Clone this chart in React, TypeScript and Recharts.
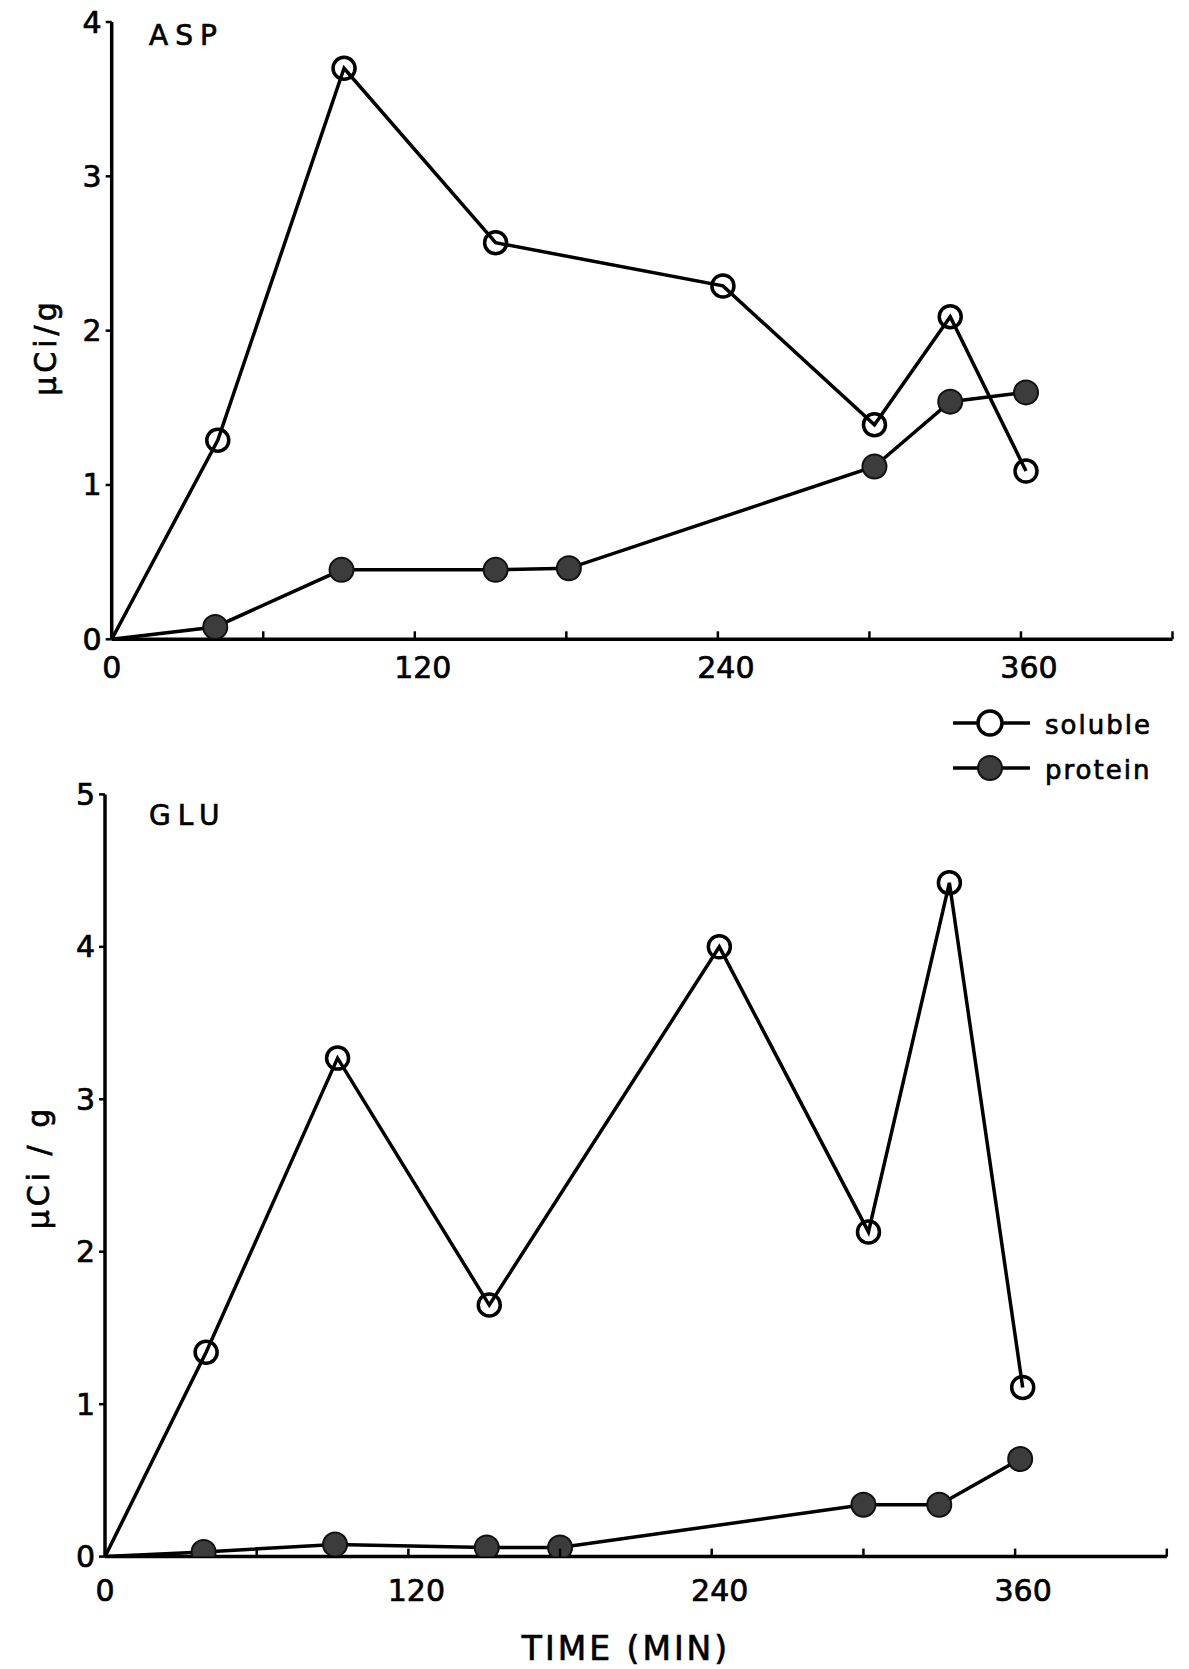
import { LineChart, Line, XAxis, YAxis, Legend, Label } from 'recharts';

const FONT = '"DejaVu Sans", Verdana, sans-serif';

const timeTicks = [0, 60, 120, 180, 240, 300, 360, 420];
const timeLabels = [0, 120, 240, 360];
const aspTicks = [0, 1, 2, 3, 4];
const gluTicks = [0, 1, 2, 3, 4, 5];
const legendOrder = ['soluble', 'protein'];

// ASP panel
const aspSolubleTime = [0, 42, 92, 152, 242, 302, 332, 362];
const aspSolubleValue = [0, 1.29, 3.7, 2.57, 2.29, 1.39, 2.09, 1.09];
const aspProteinTime = [0, 41, 91, 152, 181, 302, 332, 362];
const aspProteinValue = [0, 0.08, 0.45, 0.45, 0.46, 1.12, 1.54, 1.6];

// GLU panel
const gluSolubleTime = [0, 40, 92, 152, 243, 302, 334, 363];
const gluSolubleValue = [0, 1.34, 3.27, 1.65, 4.0, 2.13, 4.42, 1.11];
const gluProteinTime = [0, 39, 91, 151, 180, 300, 330, 362];
const gluProteinValue = [0, 0.03, 0.08, 0.06, 0.06, 0.34, 0.34, 0.64];

const toPoints = (t: number[], v: number[]) => t.map((time, i) => ({ time, value: v[i] }));

// hand-lettered look: thin outline on the glyphs
const inkText = { fill: '#000', stroke: '#000', strokeWidth: 0.7, fontFamily: FONT };

const OpenDot = (props: any) => {
    const { cx, cy, index } = props;
    if (index === 0 || cx == null) return <g key={`o-${index}`} />;
    return <circle key={`o-${index}`} cx={cx} cy={cy} r={11} fill="none" stroke="#000" strokeWidth={3.5} />;
};

const FilledDot = (props: any) => {
    const { cx, cy, index } = props;
    if (index === 0 || cx == null) return <g key={`f-${index}`} />;
    return <circle key={`f-${index}`} cx={cx} cy={cy} r={12} fill="#3c3c3c" stroke="#111" strokeWidth={2} />;
};

const makeTimeTick = (labelDy: number) => (props: any) => {
    const { x, y, payload } = props;
    const v = payload.value as number;
    return (
        <g>
            {v > 0 && <line x1={x} x2={x} y1={y} y2={y - 8} stroke="#000" strokeWidth={2.5} />}
            {timeLabels.includes(v) && (
                <text
                    x={x + (v === 0 ? 0 : 8)}
                    y={y + labelDy}
                    textAnchor="middle"
                    dominantBaseline="central"
                    fontSize={30}
                    {...inkText}
                >
                    {v}
                </text>
            )}
        </g>
    );
};

const ValueTick = (props: any) => {
    const { x, y, payload } = props;
    return (
        <g>
            <line x1={x - 6} x2={x} y1={y} y2={y} stroke="#000" strokeWidth={2.5} />
            <text x={x - 10} y={y} textAnchor="end" dominantBaseline="central" fontSize={30} {...inkText}>
                {payload.value}
            </text>
        </g>
    );
};

const LegendContent = (props: any) => {
    const items = [...(props.payload || [])].sort(
        (a: any, b: any) => legendOrder.indexOf(a.value) - legendOrder.indexOf(b.value)
    );
    return (
        <svg width={240} height={90}>
            {items.map((entry: any, i: number) => {
                const y = 23 + i * 45;
                const open = entry.value === 'soluble';
                return (
                    <g key={entry.value}>
                        <line x1={3} x2={80} y1={y} y2={y} stroke="#000" strokeWidth={3.5} />
                        {open ? (
                            <circle cx={40} cy={y} r={12} fill="#fff" stroke="#000" strokeWidth={3.5} />
                        ) : (
                            <circle cx={40} cy={y} r={12} fill="#3c3c3c" stroke="#111" strokeWidth={2} />
                        )}
                        <text x={95} y={y + 2} dominantBaseline="central" fontSize={26} letterSpacing={2} {...inkText}>
                            {entry.value}
                        </text>
                    </g>
                );
            })}
        </svg>
    );
};

interface PanelProps {
    title: string;
    titleY: number;
    yLabel: string;
    yLabelX: number;
    yLabelY: number;
    yMax: number;
    yTicks: number[];
    solubleData: { time: number; value: number }[];
    proteinData: { time: number; value: number }[];
    height: number;
    margin: { top: number; right: number; bottom: number; left: number };
    labelDy: number;
    showLegend?: boolean;
    xLabel?: string;
    xLabelY?: number;
}

function Panel(p: PanelProps) {
    return (
        <LineChart width={1189} height={p.height} margin={p.margin}>
            <XAxis
                dataKey="time"
                type="number"
                domain={[0, 420]}
                ticks={timeTicks}
                interval={0}
                height={40}
                tickSize={0}
                tickMargin={0}
                tick={makeTimeTick(p.labelDy)}
                axisLine={{ stroke: '#000', strokeWidth: 3.5 }}
                allowDataOverflow
            >
                {p.xLabel && (
                    <Label
                        content={() => (
                            <text x={626} y={p.xLabelY} textAnchor="middle" dominantBaseline="central" fontSize={33} letterSpacing={3} {...inkText}>
                                {p.xLabel}
                            </text>
                        )}
                    />
                )}
            </XAxis>
            <YAxis
                type="number"
                domain={[0, p.yMax]}
                ticks={p.yTicks}
                interval={0}
                width={60}
                tickSize={0}
                tickMargin={0}
                tick={ValueTick}
                axisLine={{ stroke: '#000', strokeWidth: 3.5 }}
                allowDataOverflow
            >
                <Label
                    content={() => (
                        <g>
                            <text
                                x={p.yLabelX}
                                y={p.yLabelY}
                                transform={`rotate(-90 ${p.yLabelX} ${p.yLabelY})`}
                                textAnchor="middle"
                                dominantBaseline="central"
                                fontSize={30}
                                letterSpacing={4}
                                {...inkText}
                            >
                                {p.yLabel}
                            </text>
                            <text x={149} y={p.titleY} dominantBaseline="central" fontSize={28} letterSpacing={7} {...inkText}>
                                {p.title}
                            </text>
                        </g>
                    )}
                />
            </YAxis>
            {p.showLegend && (
                <Legend
                    layout="horizontal"
                    verticalAlign="middle"
                    align="center"
                    wrapperStyle={{ left: 950, top: 700, width: 240, height: 90 }}
                    content={LegendContent}
                />
            )}
            <Line
                name="soluble"
                data={p.solubleData}
                dataKey="value"
                type="linear"
                stroke="#000"
                strokeWidth={3.5}
                dot={OpenDot}
                activeDot={false}
                isAnimationActive={false}
            />
            <Line
                name="protein"
                data={p.proteinData}
                dataKey="value"
                type="linear"
                stroke="#000"
                strokeWidth={3.5}
                dot={FilledDot}
                activeDot={false}
                isAnimationActive={false}
            />
        </LineChart>
    );
}

export default function App() {
    return (
        <div style={{ position: 'absolute', left: 0, top: 0, width: 1189, height: 1669, background: '#fff', overflow: 'hidden' }}>
            <div style={{ position: 'absolute', left: 0, top: 0 }}>
                <Panel
                    title="ASP"
                    titleY={35}
                    yLabel="µCi/g"
                    yLabelX={45}
                    yLabelY={347}
                    yMax={4}
                    yTicks={aspTicks}
                    solubleData={toPoints(aspSolubleTime, aspSolubleValue)}
                    proteinData={toPoints(aspProteinTime, aspProteinValue)}
                    height={800}
                    margin={{ top: 22, right: 16.5, bottom: 120.7, left: 51.7 }}
                    labelDy={28}
                    showLegend
                />
            </div>
            <div style={{ position: 'absolute', left: 0, top: 740 }}>
                <Panel
                    title="GLU"
                    titleY={75}
                    yLabel="µCi / g"
                    yLabelX={38}
                    yLabelY={427}
                    yMax={5}
                    yTicks={gluTicks}
                    solubleData={toPoints(gluSolubleTime, gluSolubleValue)}
                    proteinData={toPoints(gluProteinTime, gluProteinValue)}
                    height={929}
                    margin={{ top: 54.4, right: 22.2, bottom: 72.4, left: 45 }}
                    labelDy={34}
                    xLabel="TIME (MIN)"
                    xLabelY={908}
                />
            </div>
        </div>
    );
}
